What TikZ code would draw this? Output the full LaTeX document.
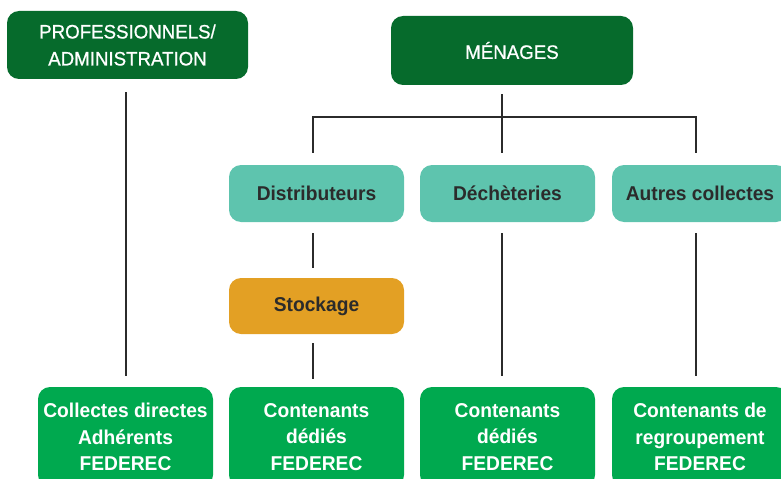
\documentclass[tikz,border=0pt]{standalone}
\usepackage{fontspec}
\setmainfont{Liberation Sans}[FakeStretch=0.96]
\newfontfamily\topfont{Liberation Sans}[FakeStretch=0.96,FakeBold=0.8]
\definecolor{darkgr}{HTML}{066B2C}
\definecolor{teal2}{HTML}{5EC4AE}
\definecolor{orng}{HTML}{E3A024}
\definecolor{brgr}{HTML}{00A94F}
\definecolor{ln}{HTML}{2B2B2B}
\begin{document}
\begin{tikzpicture}[x=0.75pt,y=-0.75pt,
  box/.style={rounded corners=9pt,inner sep=0pt,align=center,minimum width=131.25pt},
  topbox/.style={box,fill=darkgr,text=white,font=\topfont\fontsize{14.6}{20.25}\selectfont},
  midbox/.style={box,fill=teal2,text=ln,minimum height=42.75pt,font=\fontsize{15}{20}\selectfont\bfseries},
  stockbox/.style={box,fill=orng,text=ln,minimum height=42pt,font=\fontsize{15}{20}\selectfont\bfseries},
  botbox/.style={box,fill=brgr,text=white,minimum height=75pt,font=\fontsize{15}{19.9}\selectfont\bfseries},
  conn/.style={draw=ln,line width=1.1pt}]
\useasboundingbox (0,0) rectangle (781,478);
\clip (0,0) rectangle (781,478);
% boxes
\node[topbox,minimum width=180.75pt,minimum height=51pt] (prof) at (127.5,45) {PROFESSIONNELS/\\ADMINISTRATION};
\node[topbox,minimum width=181.5pt,minimum height=51.75pt] (men) at (512,50.5) {MÉNAGES};
\node[midbox] (dist) at (316.5,193.5) {Distributeurs};
\node[midbox] (dech) at (507.5,193.5) {Déchèteries};
\node[midbox,minimum width=132pt] (aut) at (700,193.5) {Autres collectes};
\node[stockbox] (stock) at (316.5,306) {Stockage};
\node[botbox] (b1) at (125.5,437) {Collectes directes\\Adhérents\\FEDEREC};
\node[botbox] (b2) at (316.5,437) {Contenants\\dédiés\\FEDEREC};
\node[botbox] (b3) at (507.5,437) {Contenants\\dédiés\\FEDEREC};
\node[botbox,minimum width=132pt] (b4) at (700,437) {Contenants de\\regroupement\\FEDEREC};
% bus coordinates
\coordinate (xp) at (126,117);
\coordinate (jl) at (313,117);
\coordinate (j) at (502,117);
\coordinate (jr) at (696,117);
% connectors
\draw[conn,shorten <=9.75pt,shorten >=8.25pt] (prof.south -| xp) -- (b1.north -| xp);
\draw[conn,shorten <=6.75pt] (men.south -| j) -- (j);
\draw[conn,shorten <=9pt,shorten >=9pt] (dist.north -| jl) -- (jl) -- (jr) -- (aut.north -| jr);
\draw[conn,shorten >=9pt] (j) -- (dech.north -| j);
\draw[conn,shorten <=8.25pt,shorten >=7.5pt] (dist.south -| jl) -- (stock.north -| jl);
\draw[conn,shorten <=6.75pt,shorten >=6pt] (stock.south -| jl) -- (b2.north -| jl);
\draw[conn,shorten <=8.25pt,shorten >=8.25pt] (dech.south -| j) -- (b3.north -| j);
\draw[conn,shorten <=8.25pt,shorten >=8.25pt] (aut.south -| jr) -- (b4.north -| jr);
\end{tikzpicture}
\end{document}
